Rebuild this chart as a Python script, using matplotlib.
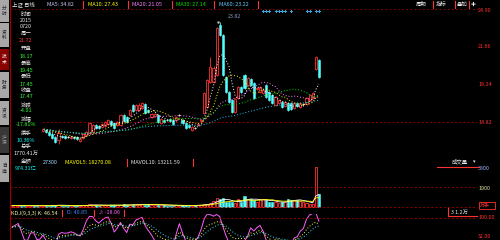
import matplotlib
matplotlib.use('Agg')
import matplotlib.pyplot as plt
from matplotlib.patches import Rectangle
import matplotlib.transforms as mtrans
import numpy as np
import pandas as pd

plt.rcParams['font.family'] = ['Noto Sans CJK SC', 'DejaVu Sans']

# ---------------- data ----------------
opens = [14.10, 14.19, 14.28, 14.37, 14.19, 14.01, 14.10, 14.28, 14.19, 14.01,
         14.01, 14.10, 13.92, 13.74, 13.47, 13.20, 13.56, 13.56, 13.47,
         13.38, 13.47,
         13.47, 13.11, 13.38, 13.65, 13.83, 13.92, 14.55, 14.46, 14.37, 14.46, 14.64,
         14.91, 14.73, 14.55, 14.55, 15.45, 15.27, 15.45, 16.35, 15.90, 15.90,
         16.08, 16.44, 15.90, 15.27, 15.36, 15.45, 14.73, 15.00, 15.00, 15.09,
         15.00, 15.00, 15.41, 15.00, 14.73, 14.55, 14.10, 14.28, 14.55, 14.91,
         15.63, 16.17, 18.42, 18.42, 19.05, 23.55, 22.65, 18.87, 17.52, 16.80,
         15.72, 16.98, 17.97, 19.05, 18.15, 18.69, 18.33, 17.79, 17.52, 17.43,
         18.15, 17.52, 17.25, 16.35, 16.53, 16.62, 16.26, 16.53, 16.53, 16.08,
         16.53, 16.17, 16.35, 16.44, 16.80, 16.98, 19.59, 20.40]
highs = [14.28, 14.37, 14.46, 14.46, 14.28, 14.19, 14.37, 14.37, 14.28, 14.19,
         14.28, 14.19, 14.01, 13.83, 13.56, 14.19, 13.65, 13.65, 13.56,
         13.56, 13.56,
         13.56, 13.38, 13.83, 14.01, 14.82, 14.64, 14.64, 14.55, 14.73, 14.91, 15.09,
         15.00, 14.82, 14.91, 15.54, 15.54, 15.36, 15.99, 16.44, 16.44, 16.53,
         16.62, 16.53, 15.99, 15.63, 15.63, 15.54, 15.18, 15.09, 15.09, 15.18,
         15.09, 15.36, 15.54, 15.09, 14.82, 14.64, 14.46, 14.37, 14.73, 15.09,
         17.52, 18.69, 20.67, 19.86, 23.37, 23.82, 22.74, 18.96, 17.61, 16.89,
         16.98, 18.06, 18.06, 19.14, 18.87, 18.78, 18.42, 17.88, 18.06, 17.79,
         18.24, 17.61, 17.34, 17.16, 16.89, 16.71, 16.71, 16.62, 16.62, 16.62,
         16.62, 16.62, 16.44, 17.07, 17.34, 17.52, 20.76, 20.49]
lows = [14.01, 14.10, 14.19, 14.10, 13.92, 13.92, 14.01, 14.10, 13.92, 13.92,
        13.92, 13.83, 13.56, 13.29, 12.93, 12.84, 13.38, 13.29, 13.38,
        13.29, 13.29,
        13.20, 13.02, 13.29, 13.56, 13.74, 13.83, 14.19, 14.19, 14.28, 14.37, 14.55,
        14.46, 14.19, 14.46, 14.46, 14.82, 14.73, 15.36, 15.72, 15.81, 15.81,
        15.99, 15.54, 15.63, 15.18, 15.27, 14.73, 14.64, 14.73, 14.91, 14.82,
        14.55, 14.91, 15.36, 14.64, 14.19, 14.28, 14.01, 14.19, 14.46, 14.82,
        15.54, 16.08, 18.33, 18.33, 18.96, 22.56, 18.96, 17.43, 16.53, 15.63,
        15.63, 16.89, 17.43, 17.79, 18.06, 18.06, 16.89, 17.70, 17.43, 17.34,
        16.98, 16.71, 16.44, 16.26, 16.44, 16.08, 16.17, 15.81, 15.90, 15.99,
        16.17, 16.08, 16.26, 16.35, 16.71, 16.89, 19.50, 18.78]
closes = [14.19, 14.28, 14.37, 14.19, 14.01, 14.10, 14.28, 14.19, 14.01, 14.10,
          14.19, 13.92, 13.65, 13.38, 13.02, 13.83, 13.47, 13.38, 13.43,
          13.47, 13.38,
          13.29, 13.29, 13.74, 13.92, 14.73, 14.55, 14.28, 14.28, 14.64, 14.82, 15.00,
          14.55, 14.28, 14.82, 15.45, 14.91, 14.82, 15.90, 15.81, 16.35, 16.35,
          16.53, 15.63, 15.72, 15.54, 15.54, 14.82, 15.09, 14.82, 14.97, 14.91,
          14.64, 15.27, 15.45, 14.73, 14.28, 14.37, 14.37, 14.25, 14.64, 15.00,
          17.43, 18.60, 19.77, 19.68, 23.28, 22.65, 19.05, 17.52, 16.62, 15.72,
          16.89, 17.97, 17.52, 17.88, 18.78, 18.15, 16.98, 17.84, 17.97, 17.70,
          17.07, 16.80, 16.53, 17.07, 16.80, 16.17, 16.62, 15.90, 15.99, 16.53,
          16.26, 16.53, 16.40, 16.98, 17.25, 17.43, 20.67, 18.87]
volumes = [150, 160, 140, 130, 120, 150, 140, 130, 120, 140,
           150, 130, 140, 160, 200, 250, 140, 120, 110, 130, 120,
           130, 150, 180, 170, 260, 240, 170, 150, 160, 180, 200,
           190, 170, 160, 190, 260, 230, 200, 250, 240, 230,
           260, 250, 270, 240, 200, 190, 210, 170, 150, 140,
           150, 160, 150, 160, 170, 150, 140, 180, 200, 220,
           300, 300, 400, 600, 900, 850, 900, 500, 500, 500,
           450, 800, 500, 1100, 800, 800, 700, 500, 800, 800,
           700, 500, 500, 500, 450, 500, 500, 800, 700, 750,
           700, 600, 500, 400, 300, 300, 4000, 1300]

ma_periods = [5, 10, 20, 30, 60]
ma_colors = ['#ffffff', '#ffff00', '#ff80ff', '#00e000', '#20c8f0']
ma_header = ['MA5: 34.82', 'MA10: 27.43', 'MA20: 21.05', 'MA30: 27.14', 'MA60: 23.22']
ma_header_colors = ['#c8c8ff', '#ffff00', '#ff80ff', '#00e000', '#60c8ff']
price_labels = [24.90, 21.66, 18.24, 14.82]
ref_price = 14.82
vol_labels = [3800, 1900]
vol_ref = 2000
kdj_labels = [100, 32]
info_marks = [81, 82, 83, 85, 86, 87, 88, 90, 95, 96, 98, 99]

info_rows = [("时间", 'w'), ("2015", 'w'), ("0720", 'w'), ("周一", 'w'),
             ("21.72", 'r'), ("开盘", 'w'), ("18.17", 'g'), ("最高", 'w'),
             ("19.45", 'g'), ("最低", 'w'), ("17.45", 'g'), ("收盘", 'w'),
             ("17.47", 'g'), ("涨跌", 'w'), ("-4.01", 'g'), ("涨幅", 'w'),
             ("-17.81%", 'g'), ("换手", 'w'), ("10.36%", 'c'), ("总手", 'w'),
             ("1770.41万", 'w'), ("金额", 'w'), ("974.31亿", 'c')]
info_y = [15, 21, 27, 33, 41, 48, 56, 63, 70, 76, 84, 90, 97, 104, 111, 118,
          125, 133, 140, 146, 153, 161, 168]

tabs = [("分时", 0, 22, '#a8a8a8', '#202020'), ("资料", 23, 47, '#a8a8a8', '#202020'),
        ("技术", 49, 70, '#8b0000', '#ffffff'), ("财务", 72, 98, '#a8a8a8', '#202020'),
        ("资讯", 101, 125, '#a8a8a8', '#202020'), ("沪深", 127, 153, '#383838', '#a0a0a0'),
        ("自选", 155, 182, '#a8a8a8', '#202020')]

# ---------------- style ----------------
RED = '#ff3232'
DRED = '#a00000'
CYAN = '#54fcfc'
GREEN = '#30ff30'
WHITE = '#e8e8e8'
cmap = {'w': WHITE, 'r': RED, 'g': GREEN, 'c': '#00ffff'}
FS = 3.9

W, H = 500, 240
fig = plt.figure(figsize=(5, 2.4), dpi=100, facecolor='black')


def box(x0, y0, x1, y1):
    return [x0 / W, 1 - y1 / H, (x1 - x0) / W, (y1 - y0) / H]


SP = 3.10
X0 = 12.0


def xl(px):
    return (px - X0) / SP


n = len(closes)
xs = np.arange(n)
o = np.array(opens); h = np.array(highs); l = np.array(lows); c = np.array(closes)
v = np.array(volumes, dtype=float)

ax = fig.add_axes(box(42, 10, 477, 155))
axv = fig.add_axes(box(10, 155, 477, 208))
axk = fig.add_axes(box(10, 214, 477, 240))
ax.set_xlim(xl(42), xl(477)); ax.set_ylim(11.85, 24.90)
axv.set_xlim(xl(10), xl(477)); axv.set_ylim(-100, 5200)
axk.set_xlim(xl(10), xl(477)); axk.set_ylim(20, 114.5)
for a in (ax, axv, axk):
    a.axis('off')

# ---- candles ----
bw = 0.66
for i in range(n):
    if abs(c[i] - o[i]) < 0.05:
        ax.vlines(i, l[i], h[i], color=WHITE, lw=0.6)
        ax.hlines(c[i], i - bw / 2, i + bw / 2, color=WHITE, lw=0.8)
    elif c[i] > o[i]:
        ax.vlines(i, l[i], o[i], color=RED, lw=0.6)
        ax.vlines(i, c[i], h[i], color=RED, lw=0.6)
        ax.add_patch(Rectangle((i - bw / 2, o[i]), bw, c[i] - o[i], facecolor='black',
                               edgecolor=RED, lw=0.6, zorder=3))
    else:
        ax.vlines(i, l[i], h[i], color=CYAN, lw=0.6)
        ax.add_patch(Rectangle((i - bw / 2, c[i]), bw, o[i] - c[i], facecolor=CYAN,
                               edgecolor=CYAN, lw=0.4, zorder=3))

cs = pd.Series(c)
for p, col in zip(ma_periods, ma_colors):
    ax.plot(xs, cs.rolling(p, min_periods=1).mean(), color=col, lw=0.7,
            ls=(0, (1, 2)), zorder=4)

ax.axhline(ref_price, color=DRED, lw=0.6, ls=(0, (2.5, 2.5)))
bt = mtrans.blended_transform_factory(ax.transAxes, ax.transData)
for pl in price_labels:
    ax.text(1.003, pl, f"{pl:.2f}", transform=bt, color=RED, fontsize=FS,
            va='center', ha='left', clip_on=False)

imax = int(np.argmax(h))
ax.plot(imax - 0.5, h[imax], marker='.', color='#c0c0c0', ms=1.5)
ax.annotate(f"{h[imax]:.2f}", (imax, h[imax]), xytext=(8, 6), textcoords='offset pixels',
            color='#8898c0', fontsize=FS, va='center', ha='left')

bx = mtrans.blended_transform_factory(ax.transData, ax.transAxes)
ax.plot(info_marks, [0.99] * len(info_marks), transform=bx, ls='none', marker='P',
        ms=2.2, color='#3aa8e0', mew=0, clip_on=False)

# ---- volume ----
up = c >= o
axv.bar(xs[~up], v[~up], width=bw, color=CYAN, edgecolor=CYAN, lw=0.4)
axv.bar(xs[up], v[up], width=bw, facecolor='black', edgecolor=RED, lw=0.6)
vs = pd.Series(v)
axv.plot(xs, vs.rolling(5, min_periods=1).mean(), color='#ffffff', lw=0.6)
axv.plot(xs, vs.rolling(10, min_periods=1).mean(), color='#ffff00', lw=0.6)
axv.axhline(vol_ref, color=DRED, lw=0.6, ls=(0, (2.5, 2.5)))
axv.axhline(0, color=DRED, lw=0.6, ls=(0, (2.5, 2.5)))
btv = mtrans.blended_transform_factory(axv.transAxes, axv.transData)
for vl, col in zip(vol_labels, ['#a0b0ff', '#e0e0a0']):
    axv.text(1.003, vl, f"{vl}", transform=btv, color=col, fontsize=FS,
             va='center', ha='left', clip_on=False)

# ---- KDJ ----
ls_ = pd.Series(l).rolling(9, min_periods=1).min()
hs_ = pd.Series(h).rolling(9, min_periods=1).max()
rsv = (cs - ls_) / (hs_ - ls_).replace(0, np.nan) * 100
rsv = rsv.fillna(50)
K = rsv.ewm(alpha=1 / 3, adjust=False).mean()
D = K.ewm(alpha=1 / 3, adjust=False).mean()
J = 3 * K - 2 * D
axk.plot(xs, J, color='#ff60ff', lw=0.7)
axk.plot(xs, K, color='#ffff40', lw=0.7, ls=(0, (1, 2)))
axk.plot(xs, D, color='#40e0ff', lw=0.7, ls=(0, (1, 2)))
axk.axhline(100, color=DRED, lw=0.6, ls=(0, (2.5, 2.5)))
btk = mtrans.blended_transform_factory(axk.transAxes, axk.transData)
for kl in kdj_labels:
    axk.text(1.003, kl, f"{kl:.2f}", transform=btk, color=RED, fontsize=FS,
             va='center', ha='left', clip_on=False)

# ---------------- overlay (frame, headers, panels) ----------------
ov = fig.add_axes([0, 0, 1, 1], zorder=10)
ov.set_xlim(0, W); ov.set_ylim(H, 0); ov.axis('off')


def T(x, y, s, col, ha='left', fs=FS, **kw):
    ov.text(x, y, s, color=col, fontsize=fs, ha=ha, va='center', **kw)


def sep(x, y0=1, y1=8):
    ov.plot([x, x], [y0, y1], color=RED, lw=0.8)


# tab strip
for name, y0, y1, bg, fg in tabs:
    ov.add_patch(Rectangle((0, y0), 9, y1 - y0, facecolor=bg, edgecolor='none'))
    ov.text(4.5, (y0 + y1) / 2, "\n".join(name), color=fg, fontsize=3.4,
            ha='center', va='center', linespacing=1.1)
ov.plot([9.5, 9.5], [0, H], color=DRED, lw=0.8)

# top border
ov.plot([10, 478], [9, 9], color=DRED, lw=0.6, ls=(0, (2, 3)))

# header
T(12, 4.5, "上证 日线", WHITE)
hx = [47, 88, 132, 176, 219]
sx = [83, 128, 172, 214, 258]
for x, s, col in zip(hx, ma_header, ma_header_colors):
    T(x, 4.5, s, col)
for x in sx:
    sep(x)
T(416, 4.5, "周期", WHITE); sep(433)
T(436, 4.5, "指标", WHITE); sep(455)
T(457, 4.5, "叠加", WHITE); sep(469)
T(471, 4.5, "✚", WHITE, fs=3.6)

# info panel
for (s, ck), y in zip(info_rows, info_y):
    T(26, y, s, cmap[ck], ha='center')

# volume header
T(43, 162, "27300", '#a0d8ff')
T(65, 162, "MAVOL5: 18270.08", '#ffff00'); sep(127, 159, 166)
T(131, 162, "MAVOL10: 13211.59", WHITE); sep(193, 159, 166)
T(452, 162, "成交量", WHITE)
T(473, 162, "▾", WHITE, fs=3.6)
ov.plot([437, 478], [167, 167], color=RED, lw=0.8)

# kdj header
T(11, 213, "KDJ(9,3,3) K: 46.54", '#f0f0a0'); sep(62, 210, 216)
T(67, 213, "D: 40.85", '#4080ff'); sep(94, 210, 216)
T(99, 213, "J: -18.06", '#ff60ff'); sep(124, 210, 216)

# small box lower right
ov.plot([448, 448, 477], [208, 216, 216], color=RED, lw=0.8)
T(451, 212, "3 1.2万", WHITE)
ov.add_patch(Rectangle((479, 202), 16, 7, facecolor='none', edgecolor=RED, lw=0.6))
T(480, 205.5, "万手", RED, fs=3.6)

fig.savefig('out.png', dpi=100, facecolor='black')
